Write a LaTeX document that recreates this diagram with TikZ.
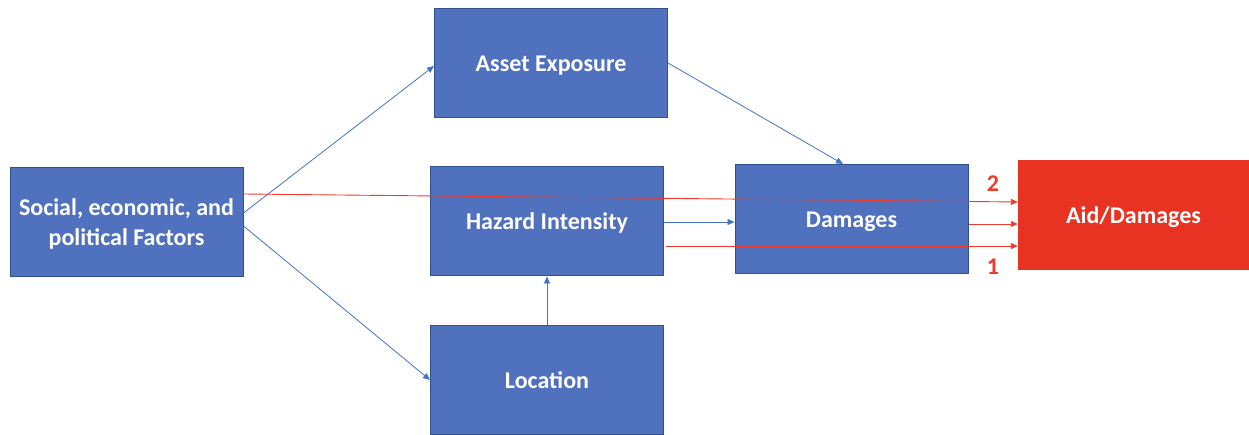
\documentclass[tikz,border=0pt]{standalone}
\usepackage{fontspec}
\setmainfont{Carlito}
\usetikzlibrary{arrows.meta}
\definecolor{boxblue}{HTML}{4F71BE}
\definecolor{boxborder}{HTML}{2F528F}
\definecolor{lineblue}{HTML}{4472C4}
\definecolor{aidred}{HTML}{E83323}
\definecolor{linered}{HTML}{EE3B2C}
\tikzset{
  bluebox/.style={draw=boxborder, line width=1pt, fill=boxblue, text=white,
    font=\fontsize{24}{30}\selectfont\bfseries, align=center, inner sep=0pt,
    minimum width=233pt, minimum height=109pt},
  oneline/.style={text height=17pt, text depth=0pt},
  redbox/.style={fill=aidred, text=white, font=\fontsize{24}{30}\selectfont\bfseries,
    inner sep=0pt, minimum width=231pt, minimum height=110pt},
  bluearrow/.style={draw=lineblue, line width=0.8pt, -{Triangle[length=7pt,width=6pt]}},
  redarrow/.style={draw=linered, line width=0.9pt, -{Triangle[length=7pt,width=6pt]}},
  numlabel/.style={text=linered, font=\fontsize{24}{30}\selectfont\bfseries}
}
\begin{document}
\begin{tikzpicture}[x=1pt,y=-1pt]
\useasboundingbox (0,0) rectangle (1249,435);
\node[bluebox] (soc) at (126.5,222) {\raisebox{-3pt}[\height][\depth]{\begin{tabular}{@{}c@{}}Social, economic, and\\[0pt]political Factors\end{tabular}}};
\node[bluebox, oneline] (asset) at (551,63.5) {Asset Exposure};
\node[bluebox, oneline] (haz) at (547,221.5) {Hazard Intensity};
\node[bluebox, oneline] (loc) at (547,379.5) {Location};
\node[bluebox, oneline] (dam) at (851.5,219) {Damages};
\node[redbox, oneline] (aid) at (1133.5,215) {Aid/Damages};
% anchor points
\coordinate (s1) at (soc.east |- 0,213);
\coordinate (s2) at (soc.east |- 0,226);
\coordinate (s3) at (soc.east |- 0,194);
\coordinate (a1) at (asset.west |- 0,66);
\coordinate (l1) at (loc.west |- 0,380);
\coordinate (a2) at (asset.east |- 0,63);
\coordinate (d1) at (dam.north -| 843,0);
\coordinate (h1) at (haz.east |- 0,222);
\coordinate (d2) at (dam.west |- 0,222);
\coordinate (h2) at (666,246);
\coordinate (r2) at (aid.west |- 0,202);
\coordinate (r0) at (aid.west |- 0,224);
\coordinate (r1) at (aid.west |- 0,246);
\coordinate (d3) at (dam.east |- 0,224);
% blue connectors
\draw[bluearrow] (s1) -- (a1);
\draw[bluearrow] (s2) -- (l1);
\draw[bluearrow] (a2) -- (d1);
\draw[bluearrow] (loc.north) -- (haz.south);
\draw[bluearrow] (h1) -- (d2);
% red connectors
\draw[redarrow] (s3) -- (r2);
\draw[redarrow] (d3) -- (r0);
\draw[redarrow] (h2) -- (r1);
\node[numlabel] (n2) at (993,184) {2};
\node[numlabel] (n1) at (993,267) {1};
\end{tikzpicture}
\end{document}
